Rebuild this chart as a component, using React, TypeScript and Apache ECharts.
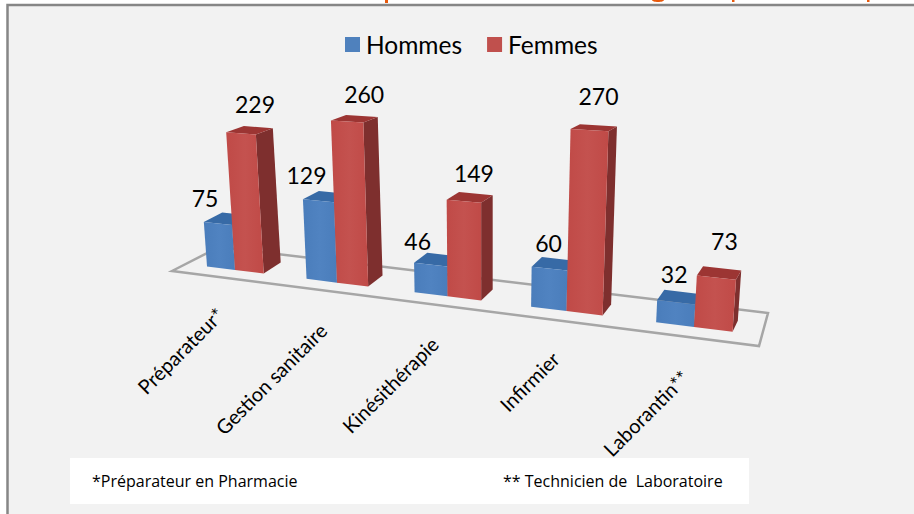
import React, { useEffect, useRef } from "react";
import * as echarts from "echarts";

const categories = ["Préparateur*", "Gestion sanitaire", "Kinésithérapie", "Infirmier", "Laborantin**"];
const hommes = [75, 129, 46, 60, 32];
const femmes = [229, 260, 149, 270, 73];
const footnoteLeft = "*Préparateur en Pharmacie";
const footnoteRight = "** Technicien de  Laboratoire";

// label nudges, px, relative to the top of each bar's front face
const hommesNudge = [[-13, -25], [-12, -26], [-13, -24], [-1, -26], [-2, -28]];
const femmesNudge = [[14, -29], [17, -28], [10, -28], [9, -34], [8, -37]];
// category label nudges, px, relative to the floor point of each category
const categoryNudge = [[-15, 41], [-14, 44], [-13, 44], [-11, 44], [-9, 47]];

const FONT = "Lato";

// perspective helpers: linear grid pixels -> skewed floor pixels
const warpX = (u: number) => 235 + 0.9775 * (u - 220) + 0.000425 * (u - 220) * (u - 220);
const floorY = (X: number) => 270 + (X - 235) * 0.124;
const heightScale = (X: number) => 1 + (X - 230) * 0.00037;

function topOf(X: number, h: number) {
  return [X + (X - 481) * 0.00026 * h, floorY(X) - h];
}
function depth(X: number, h: number) {
  return [17 - (X - 263) * 0.025, -11 + h * 0.034];
}
function add(a: number[], b: number[]) {
  return [a[0] + b[0], a[1] + b[1]];
}

function barRenderer(side: "L" | "R", colors: any, nudge: number[][]) {
  return (params: any, api: any) => {
    const i = api.value(0);
    const v = api.value(1);
    const base = api.coord([i, 0]);
    const top = api.coord([i, v]);
    const band = api.size([1, 0])[0];
    const w = band * 0.29;
    const u0 = side === "L" ? base[0] - w : base[0];
    const u1 = side === "L" ? base[0] : base[0] + w;
    const X0 = warpX(u0);
    const X1 = warpX(u1);
    const raw = base[1] - top[1];
    const h0 = raw * heightScale(X0);
    const h1 = raw * heightScale(X1);
    const b0 = [X0, floorY(X0)];
    const b1 = [X1, floorY(X1)];
    const t0 = topOf(X0, h0);
    const t1 = topOf(X1, h1);
    const d1b = depth(X1, 0);
    const d0t = depth(X0, h0);
    const d1t = depth(X1, h1);
    const tb0 = add(t0, d0t);
    const tb1 = add(t1, d1t);
    const bb1 = add(b1, d1b);
    const n = nudge[i];
    return {
      type: "group",
      children: [
        { type: "polygon", shape: { points: [t1, tb1, bb1, b1] }, style: { fill: colors.side } },
        { type: "polygon", shape: { points: [t0, tb0, tb1, t1] }, style: { fill: colors.top } },
        {
          type: "polygon",
          shape: { points: [t0, t1, b1, b0] },
          style: {
            fill: {
              type: "linear", x: 0, y: 0, x2: 1, y2: 0,
              colorStops: [
                { offset: 0, color: colors.f0 },
                { offset: 0.5, color: colors.f1 },
                { offset: 1, color: colors.f0 },
              ],
            },
          },
        },
        {
          type: "text",
          x: (t0[0] + t1[0]) / 2 + n[0],
          y: (t0[1] + t1[1]) / 2 + n[1],
          style: {
            text: String(v),
            fontFamily: FONT,
            fontSize: 23,
            fill: "#000",
            align: "center",
            verticalAlign: "middle",
          },
        },
      ],
    };
  };
}

function categoryLabel(params: any, api: any) {
  const i = api.value(0);
  const base = api.coord([i, 0]);
  const X = warpX(base[0]);
  const n = categoryNudge[i];
  return {
    type: "text",
    x: X + n[0],
    y: floorY(X) + n[1],
    rotation: Math.PI / 4,
    style: {
      text: categories[i],
      fontFamily: FONT,
      fontSize: 20,
      fill: "#000",
      align: "right",
      verticalAlign: "middle",
    },
  };
}

export default function App() {
  const ref = useRef<HTMLDivElement>(null);
  useEffect(() => {
    document.body.style.margin = "0";
    const chart = echarts.init(ref.current!, null, { renderer: "svg" });
    const blue = { f0: "#4a7dbb", f1: "#5083c1", top: "#376aa6", side: "#2f5a8f" };
    const red = { f0: "#c04a47", f1: "#c4524f", top: "#9c3533", side: "#7e2f2e" };
    const orange = "#e8590c";
    chart.setOption({
      animation: false,
      backgroundColor: "#ffffff",
      grid: { left: 170, width: 500, top: 90, height: 180 },
      xAxis: { type: "category", data: categories, show: false },
      yAxis: { type: "value", min: 0, max: 300, show: false },
      legend: {
        data: ["Hommes", "Femmes"],
        left: 345,
        top: 32,
        padding: 0,
        itemWidth: 15,
        itemHeight: 15,
        itemGap: 25,
        icon: "rect",
        textStyle: { fontFamily: FONT, fontSize: 24.5, color: "#000", padding: [0, 0, 0, 1] },
      },
      graphic: [
        { type: "rect", z: 0, shape: { x: 7.5, y: 5, width: 920, height: 520 }, style: { fill: "#f2f2f2", stroke: "#868686", lineWidth: 2.5 } },
        { type: "rect", z: 1, shape: { x: 70, y: 458, width: 679, height: 46 }, style: { fill: "#ffffff" } },
        { type: "polygon", z: 1, shape: { points: [[172, 271], [219, 247], [768, 313], [759, 346]] }, style: { fill: "none", stroke: "#a6a6a6", lineWidth: 2.5 } },
        { type: "rect", z: 1, shape: { x: 385, y: 0, width: 3, height: 3 }, style: { fill: orange } },
        { type: "ellipse", z: 1, shape: { cx: 658, cy: 0, rx: 6, ry: 2 }, style: { fill: orange } },
        { type: "rect", z: 1, shape: { x: 732, y: 0, width: 2.5, height: 2 }, style: { fill: orange } },
        { type: "rect", z: 1, shape: { x: 867, y: 0, width: 2.5, height: 2 }, style: { fill: orange } },
        { type: "text", z: 3, x: 92, y: 481, style: { text: footnoteLeft, fontFamily: "Open Sans", fontSize: 16, fill: "#000", verticalAlign: "middle" } },
        { type: "text", z: 3, x: 503, y: 481, style: { text: footnoteRight, fontFamily: "Open Sans", fontSize: 16, fill: "#000", verticalAlign: "middle" } },
      ],
      series: [
        {
          name: "Hommes",
          type: "custom",
          coordinateSystem: "cartesian2d",
          itemStyle: { color: "#4f81bd" },
          encode: { x: 0, y: 1 },
          data: hommes.map((v, i) => [i, v]),
          renderItem: barRenderer("L", blue, hommesNudge),
        },
        {
          name: "Femmes",
          type: "custom",
          coordinateSystem: "cartesian2d",
          itemStyle: { color: "#c0504d" },
          encode: { x: 0, y: 1 },
          data: femmes.map((v, i) => [i, v]),
          renderItem: barRenderer("R", red, femmesNudge),
        },
        {
          name: "labels",
          type: "custom",
          coordinateSystem: "cartesian2d",
          encode: { x: 0, y: 1 },
          data: categories.map((_, i) => [i, 0]),
          renderItem: categoryLabel,
        },
      ],
    });
    return () => chart.dispose();
  }, []);
  return <div ref={ref} style={{ width: 914, height: 514 }} />;
}
